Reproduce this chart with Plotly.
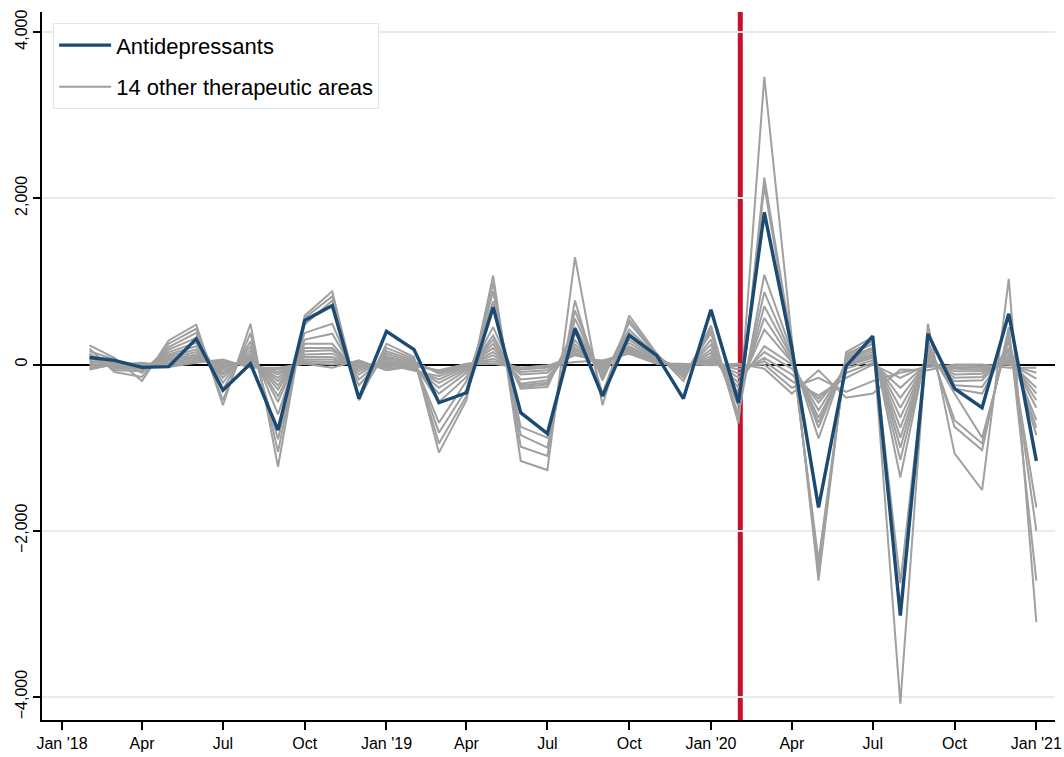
import pandas as pd
import plotly.graph_objects as go

# Monthly observations, Feb 2018 .. Jan 2021
months = pd.date_range("2018-02-01", periods=36, freq="MS")

antidepressants = [85, 50, -35, -25, 310, -310, 10, -790, 530, 710, -410, 400,
                   180, -460, -340, 690, -580, -830, 430, -380, 350, 110, -410, 660,
                   -460, 1830, 200, -1720, -20, 340, -3020, 370, -290, -520, 610, -1160]

# Fourteen other therapeutic areas
area_01 = [230, 80, -200, 290, 480, -490, 490, -1230, 590, 880, -430, 250,
           90, -1060, -430, 1070, -1160, -1270, 1290, -490, 590, 130, -200, 470,
           -710, 3460, 300, -2600, 150, 330, -4080, 490, -1070, -1510, 1030, -3100]
area_02 = [190, -90, -150, 250, 430, -430, 380, -1050, 560, 820, -400, 200,
           70, -950, -380, 980, -990, -1100, 770, -350, 540, 120, -160, 420,
           -680, 2250, 250, -2500, 120, 280, -2630, 300, -750, -1030, 450, -2600]
area_03 = [160, 60, -100, 210, 380, -300, 280, -900, 480, 770, -380, 160,
           50, -820, -300, 880, -850, -1000, 650, -190, 500, 110, -130, 380,
           -650, 2150, 200, -2420, 100, 250, -1360, 250, -670, -950, 380, -2000]
area_04 = [130, -70, -80, 180, 320, -220, 220, -600, 380, 490, -250, 130,
           30, -700, -200, 760, -750, -880, 550, -150, 420, 100, -110, 300,
           -600, 1080, 150, -2360, 80, 200, -1150, 200, -350, -880, 320, -1720]
area_05 = [110, 40, -60, 150, 260, -160, 170, -450, 300, 370, -180, 100,
           10, -450, -150, 450, -290, -270, 450, -120, 380, 90, -90, 240,
           -500, 870, 100, -890, 60, 180, -1000, 160, -290, -350, 260, -850]
area_06 = [90, -50, -50, 120, 220, -120, 130, -380, 250, 250, -120, 80,
           -10, -350, -100, 350, -270, -240, 380, -90, 340, 80, -70, 180,
           -420, 700, 80, -760, 40, 150, -880, 120, -250, -270, 200, -760]
area_07 = [70, 30, -40, 100, 180, -90, 100, -300, 200, 200, -80, 60,
           -30, -280, -70, 300, -250, -220, 290, -60, 300, 70, -60, 140,
           -350, 560, 50, -700, 20, 120, -760, 100, -200, -190, 160, -670]
area_08 = [50, -30, -30, 80, 150, -60, 80, -250, 160, 170, -50, 40,
           -50, -220, -50, 250, -230, -190, 240, -40, 260, 60, -50, 100,
           -280, 420, 30, -640, 0, 100, -640, 80, -160, -150, 120, -520]
area_09 = [30, 20, -20, 60, 120, -40, 60, -200, 120, 130, -30, 20,
           -60, -180, -30, 200, -180, -150, 200, -20, 220, 50, -40, 70,
           -220, 220, 0, -550, -20, 80, -520, 60, -120, -110, 90, -430]
area_10 = [10, -20, -10, 40, 100, -20, 40, -160, 90, 90, -10, 0,
           -70, -140, -20, 150, -120, -100, 170, 0, 200, 40, -30, 50,
           -160, 150, -50, -460, -50, 50, -400, 40, -80, -80, 60, -350]
area_11 = [-10, 10, 0, 20, 80, 0, 20, -120, 60, 60, 0, -20,
           40, -110, -10, 110, -90, -70, 140, 20, 180, 30, -20, 30,
           -110, 80, -120, -410, -100, 20, -280, 20, -50, -60, 40, -280]
area_12 = [-30, -10, 10, 0, 60, 20, 0, -90, 40, 30, 20, -40,
           20, -90, 0, 70, -60, -40, 120, 30, 160, 20, -10, 20,
           -60, 40, -200, -370, -160, 0, -160, 0, -30, -40, 20, -170]
area_13 = [-50, 0, 20, -20, 40, 40, -20, -60, 20, 0, 40, -60,
           0, -80, 10, 40, -40, -20, 110, 40, 140, 15, 0, 0,
           -20, 0, -280, -160, -330, -200, -100, -30, -10, -20, 0, -100]
area_14 = [-60, 5, -5, -30, 20, 60, -40, -40, 10, -40, 50, -70,
           -20, -70, 5, 10, -40, -10, 30, 50, 130, 10, 10, -10,
           10, -50, -350, -70, -400, -350, -60, -70, 0, 0, -40, -40]

other_areas = [area_01, area_02, area_03, area_04, area_05, area_06, area_07,
               area_08, area_09, area_10, area_11, area_12, area_13, area_14]

x_tick_dates = ["2018-01-01", "2018-04-01", "2018-07-01", "2018-10-01",
                "2019-01-01", "2019-04-01", "2019-07-01", "2019-10-01",
                "2020-01-01", "2020-04-01", "2020-07-01", "2020-10-01",
                "2021-01-01"]
x_tick_labels = ["Jan '18", "Apr", "Jul", "Oct", "Jan '19", "Apr", "Jul", "Oct",
                 "Jan '20", "Apr", "Jul", "Oct", "Jan '21"]
y_tick_values = [-4000, -2000, 0, 2000, 4000]
y_tick_labels = ["\u22124,000", "\u22122,000", "0", "2,000", "4,000"]

event_date = "2020-02-03"

BLUE = "#1b4a73"
GREY = "#a0a0a0"
RED = "#c8102e"
FONT = "Liberation Sans, Arial, sans-serif"

fig = go.Figure()

for i, series in enumerate(other_areas):
    fig.add_trace(go.Scatter(
        x=months, y=series, mode="lines",
        line=dict(color=GREY, width=2),
        name="14 other therapeutic areas",
        legendgroup="other", legendrank=2,
        showlegend=(i == 0),
    ))

fig.add_trace(go.Scatter(
    x=months, y=antidepressants, mode="lines",
    line=dict(color=BLUE, width=3.4),
    name="Antidepressants",
    legendgroup="ad", legendrank=1,
))

fig.add_shape(type="line", xref="x", yref="paper",
              x0=event_date, x1=event_date, y0=0, y1=1,
              line=dict(color=RED, width=5), layer="between")

fig.update_layout(
    width=1064, height=757,
    margin=dict(l=42, r=9, t=12, b=37),
    paper_bgcolor="white", plot_bgcolor="white",
    font=dict(family=FONT, size=15, color="black"),
    showlegend=True,
    legend=dict(
        x=0.011, y=0.984, xanchor="left", yanchor="top",
        bgcolor="white", bordercolor="#dde7ec", borderwidth=1,
        font=dict(size=22, family=FONT),
        itemwidth=52,
        tracegroupgap=10,
    ),
    xaxis=dict(
        type="date",
        range=["2017-12-09 12:00", "2021-01-22 00:00"],
        tickvals=x_tick_dates, ticktext=x_tick_labels,
        showgrid=False, zeroline=False, automargin=False,
        showline=True, linecolor="black", linewidth=1.5,
        ticks="outside", ticklen=8, tickwidth=1.5, tickcolor="black",
        tickfont=dict(size=16),
    ),
    yaxis=dict(
        range=[-4277, 4241],
        tickvals=y_tick_values, ticktext=y_tick_labels,
        tickangle=-90, automargin=False,
        showgrid=True, gridcolor="#e5edf1", gridwidth=1.5,
        zeroline=True, zerolinecolor="black", zerolinewidth=1.5,
        showline=True, linecolor="black", linewidth=1.5,
        ticks="outside", ticklen=7, tickwidth=1.5, tickcolor="black",
        tickfont=dict(size=16),
    ),
)

fig.write_html("out.html")
